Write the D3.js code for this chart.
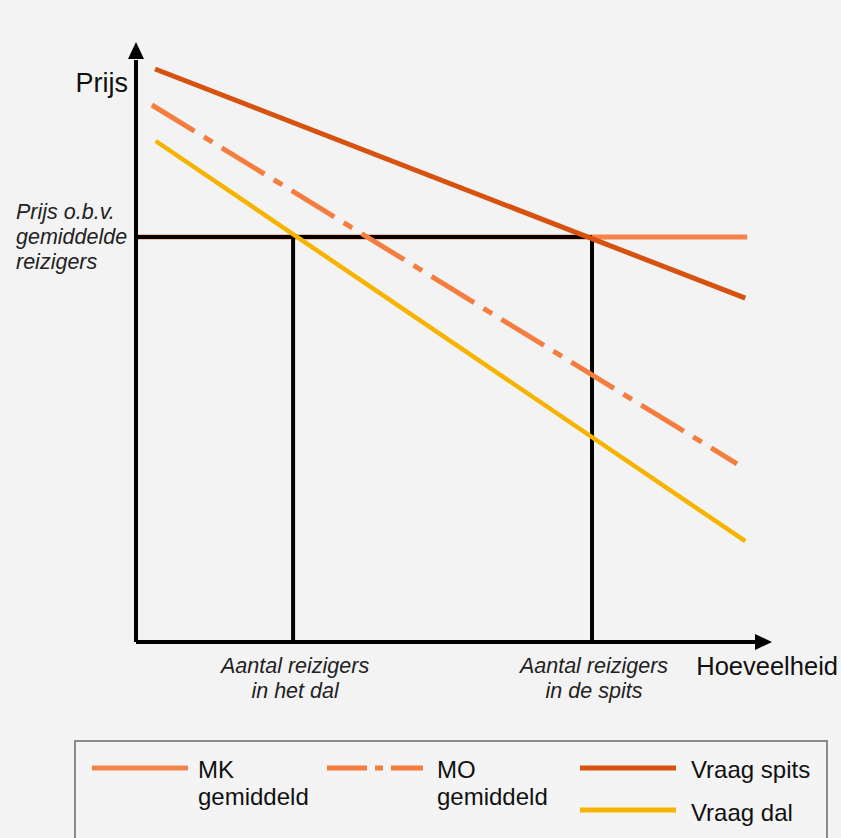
<html>
<head>
<meta charset="UTF-8">
<title>Prijs en hoeveelheid</title>
<style>
  body { margin: 0; background-color: #f3f3f3; }
  svg { display: block; font-family: Arial, "Liberation Sans", sans-serif; }
</style>
</head>
<body>
<svg id="chart" width="841" height="838"></svg>
<script src="https://d3js.org/d3.v7.min.js"></script>
<script>
// curves in chart units (quantity 0-100, price 0-100)
var vraagSpits = [[3.0, 95.5], [95.8, 57.3]];
var moGemiddeld = [[2.5, 89.5], [94.5, 29.7]];
var vraagDal = [[3.1, 83.5], [95.8, 16.8]];
var mkGemiddeld = [[0, 67.5], [96.1, 67.5]];
var prijsGemiddeld = 67.5;
var qDal = 24.7;
var qSpits = 71.7;

var legendItems = [
    {key: "mk", label: ["MK", "gemiddeld"]},
    {key: "mo", label: ["MO", "gemiddeld"]},
    {key: "spits", label: ["Vraag spits"]},
    {key: "dal", label: ["Vraag dal"]}
];

var colors = {mk: "#f7834a", mo: "#f47d3f", spits: "#d5520f", dal: "#f6b400"};

var svg = d3.select("#chart");
var x = d3.scaleLinear().domain([0, 100]).range([136, 772]);
var y = d3.scaleLinear().domain([0, 100]).range([642, 42]);

var line = d3.line()
    .x(function(d) { return x(d[0]); })
    .y(function(d) { return y(d[1]); });

svg.append("rect").attr("width", 841).attr("height", 838).attr("fill", "#f3f3f3");

// MK (partly under the black price line)
svg.append("path").attr("d", line(mkGemiddeld))
    .attr("stroke", colors.mk).attr("stroke-width", 5).attr("fill", "none");

// black guide lines
svg.append("path").attr("d", line([[0, prijsGemiddeld], [qSpits, prijsGemiddeld]]))
    .attr("stroke", "#000").attr("stroke-width", 4).attr("fill", "none");
[qDal, qSpits].forEach(function(q) {
    svg.append("path").attr("d", line([[q, prijsGemiddeld], [q, 0]]))
        .attr("stroke", "#000").attr("stroke-width", 4).attr("fill", "none");
});

svg.append("path").attr("d", line(moGemiddeld))
    .attr("stroke", colors.mo).attr("stroke-width", 5).attr("fill", "none")
    .attr("stroke-dasharray", "50,11,10,11");
svg.append("path").attr("d", line(vraagDal))
    .attr("stroke", colors.dal).attr("stroke-width", 4.5).attr("fill", "none");
svg.append("path").attr("d", line(vraagSpits))
    .attr("stroke", colors.spits).attr("stroke-width", 5).attr("fill", "none");

// axes with arrows
svg.append("path").attr("d", line([[0, 0], [0, 97]]))
    .attr("stroke", "#000").attr("stroke-width", 4).attr("fill", "none");
svg.append("path").attr("d", line([[0, 0], [97.5, 0]]))
    .attr("stroke", "#000").attr("stroke-width", 4).attr("fill", "none");
svg.append("path")
    .attr("d", "M" + x(0) + "," + y(100) + "l-8,17h16z").attr("fill", "#000");
svg.append("path")
    .attr("d", "M" + x(100) + "," + y(0) + "l-17,-8v16z").attr("fill", "#000");

svg.append("text").attr("x", 128).attr("y", 92).attr("text-anchor", "end")
    .attr("font-size", 27).attr("fill", "#111").text("Prijs");
svg.append("text").attr("x", 838).attr("y", 675).attr("text-anchor", "end")
    .attr("font-size", 25.5).attr("fill", "#111").text("Hoeveelheid");

var prijsLabel = svg.append("text").attr("font-size", 21.5).attr("font-style", "italic")
    .attr("fill", "#222");
["Prijs o.b.v.", "gemiddelde", "reizigers"].forEach(function(t, i) {
    prijsLabel.append("tspan").attr("x", 16).attr("y", 219 + i * 25).text(t);
});

[[qDal, ["Aantal reizigers", "in het dal"]], [qSpits, ["Aantal reizigers", "in de spits"]]].forEach(function(d) {
    var t = svg.append("text").attr("font-size", 21.5).attr("font-style", "italic")
        .attr("text-anchor", "middle").attr("fill", "#222");
    d[1].forEach(function(s, i) {
        t.append("tspan").attr("x", x(d[0]) + 2).attr("y", 673 + i * 25).text(s);
    });
});

// legend
svg.append("rect").attr("x", 75).attr("y", 741).attr("width", 752).attr("height", 110)
    .attr("fill", "#f4f4f4").attr("stroke", "#8a8a8a").attr("stroke-width", 2);

var legendPos = [
    {lx: 92, ly: 768, tx: 198, ty: 778},
    {lx: 327, ly: 768, tx: 437, ty: 778},
    {lx: 580, ly: 768, tx: 691, ty: 778},
    {lx: 580, ly: 810, tx: 691, ty: 821}
];

legendItems.forEach(function(item, i) {
    var p = legendPos[i];
    var l = svg.append("line").attr("x1", p.lx).attr("x2", p.lx + 96)
        .attr("y1", p.ly).attr("y2", p.ly)
        .attr("stroke", colors[item.key]).attr("stroke-width", 5);
    if (item.key === "mo") l.attr("stroke-dasharray", "40,8,8,8");
    var t = svg.append("text").attr("font-size", 24).attr("fill", "#111");
    item.label.forEach(function(s, j) {
        t.append("tspan").attr("x", p.tx).attr("y", p.ty + j * 27).text(s);
    });
});
</script>
</body>
</html>
